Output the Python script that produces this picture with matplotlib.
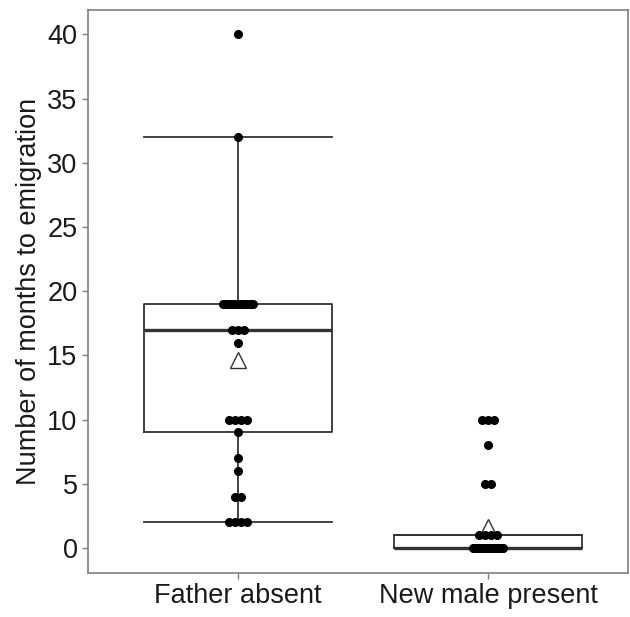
import matplotlib.pyplot as plt
import numpy as np

plt.rcParams['font.family'] = ['Liberation Sans', 'DejaVu Sans']

groups = ["Father absent", "New male present"]

# months to emigration, one entry per individual
father_absent = [2, 2, 2, 2, 4, 4, 6, 7, 9, 10, 10, 10, 10, 16,
                 17, 17, 17] + [19] * 14 + [32, 40]
new_male_present = [0] * 22 + [1, 1, 1, 1, 5, 5, 8, 10, 10, 10]

data = [father_absent, new_male_present]


def spread(values, step=0.025):
    """Spread tied values side by side around the group centre."""
    values = np.asarray(values)
    offs = np.zeros(len(values))
    for v in np.unique(values):
        idx = np.where(values == v)[0]
        k = len(idx)
        if k > 1:
            half = min(step * (k - 1) / 2, 0.06)
            offs[idx] = np.linspace(-half, half, k)
    return offs


fig = plt.figure(figsize=(6.3, 6.17), dpi=100)
ax = fig.add_axes([0.1397, 0.0713, 0.857, 0.9125])

box_color = "#333333"
ax.boxplot(
    data,
    positions=[1, 2],
    widths=0.75,
    whis=1.5,
    showfliers=False,
    showmeans=True,
    capwidths=0.75,
    boxprops=dict(color=box_color, linewidth=1.3),
    whiskerprops=dict(color=box_color, linewidth=1.3),
    capprops=dict(color=box_color, linewidth=1.3),
    medianprops=dict(color=box_color, linewidth=2.4),
    meanprops=dict(marker="^", markerfacecolor="white", markeredgecolor="#333333",
                   markersize=11, markeredgewidth=1.0),
    zorder=2,
)

for i, vals in enumerate(data, start=1):
    xs = i + spread(vals)
    ax.plot(xs, vals, "o", color="black", markersize=5.5, zorder=3)

ax.set_xlim(0.4, 2.56)
ax.set_ylim(-1.95, 41.9)
ax.set_yticks(range(0, 41, 5))
ax.set_xticks([1, 2])
ax.set_xticklabels(groups)
ax.set_ylabel("Number of months to emigration", fontsize=19.5, color="#1a1a1a",
              labelpad=4)

for s in ax.spines.values():
    s.set_color("#7f7f7f")
    s.set_linewidth(1.2)
ax.tick_params(axis="both", colors="#7f7f7f", length=4, width=1,
               labelsize=19.5, labelcolor="#1a1a1a")

plt.savefig("out.png", dpi=100)
